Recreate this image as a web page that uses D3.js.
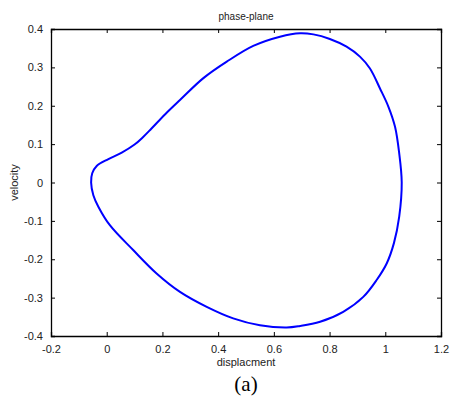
<!DOCTYPE html>
<html>
<head>
  <meta charset="utf-8">
  <title>phase-plane</title>
  <script src="https://d3js.org/d3.v7.min.js"></script>
  <style>
    body { margin: 0; background: #fff; }
    text { font-family: Arial, "Liberation Sans", sans-serif; fill: #222; }
  </style>
</head>
<body>
<div id="chart"></div>
<script>
"use strict"

// curve, going round clockwise from the left tip
var displacement = [-0.056, -0.052, -0.036, 0.006, 0.054, 0.100, 0.130, 0.160, 0.210, 0.263, 0.347, 0.431,
  0.526, 0.622, 0.694, 0.742, 0.801, 0.861, 0.909, 0.945, 0.981, 1.011, 1.035,
  1.050, 1.059, 1.050, 1.031, 1.005, 0.969, 0.921, 0.849, 0.766, 0.694,
  0.646, 0.550, 0.454, 0.359, 0.263, 0.179, 0.095, 0.012, -0.030, -0.048];
var velocity = [0.000, 0.024, 0.043, 0.061, 0.078, 0.099, 0.118, 0.140, 0.178, 0.215, 0.272, 0.315,
  0.356, 0.380, 0.389, 0.386, 0.374, 0.354, 0.328, 0.297, 0.245, 0.198, 0.145,
  0.076, 0.000, -0.089, -0.158, -0.211, -0.254, -0.298, -0.337, -0.363, -0.374,
  -0.378, -0.372, -0.354, -0.324, -0.285, -0.237, -0.176, -0.112, -0.063, -0.033];
var xTicks = [-0.2, 0, 0.2, 0.4, 0.6, 0.8, 1, 1.2];
var yTicks = [-0.4, -0.3, -0.2, -0.1, 0, 0.1, 0.2, 0.3, 0.4];

var larguraSVG = 450, alturaSVG = 412;
var margin = {top: 29, right: 9, bottom: 76, left: 51};
var larguraVis = larguraSVG - margin.left - margin.right,
    alturaVis = alturaSVG - margin.top - margin.bottom;

var svg = d3.select('#chart').append('svg')
  .attr('width', larguraSVG)
  .attr('height', alturaSVG);

var g = svg.append('g')
  .attr('transform', 'translate(' + margin.left + ',' + margin.top + ')');

var x = d3.scaleLinear().domain([-0.2, 1.2]).range([0, larguraVis]);
var y = d3.scaleLinear().domain([-0.4, 0.4]).range([alturaVis, 0]);

// hifen comum no lugar do sinal de menos unicode
var fmt = function(d) { return String(d); };

// eixos: ticks para dentro, como no matlab
g.append('g')
  .attr('transform', 'translate(0,' + alturaVis + ')')
  .call(d3.axisBottom(x).tickValues(xTicks).tickSize(-4).tickPadding(9).tickFormat(fmt));
g.append('g')
  .call(d3.axisTop(x).tickValues(xTicks).tickSize(-4).tickFormat(''));
g.append('g')
  .call(d3.axisLeft(y).tickValues(yTicks).tickSize(-4).tickPadding(8).tickFormat(fmt));
g.append('g')
  .attr('transform', 'translate(' + larguraVis + ',0)')
  .call(d3.axisRight(y).tickValues(yTicks).tickSize(-4).tickFormat(''));

g.selectAll('.domain').attr('stroke', '#000').attr('stroke-width', 1.3);
g.selectAll('.tick line').attr('stroke', '#000');
g.selectAll('.tick text').attr('font-size', 11).attr('fill', '#222')
  .attr('font-family', 'Arial, "Liberation Sans", sans-serif');

var pontos = d3.zip(displacement, velocity);

g.append('path')
  .datum(pontos)
  .attr('fill', 'none')
  .attr('stroke', '#0000ff')
  .attr('stroke-width', 2)
  .attr('d', d3.line()
    .x(function(d) { return x(d[0]); })
    .y(function(d) { return y(d[1]); })
    .curve(d3.curveCatmullRomClosed.alpha(0.5)));

svg.append('text')
  .attr('x', margin.left + larguraVis / 2)
  .attr('y', 20)
  .attr('text-anchor', 'middle')
  .attr('font-size', 10)
  .text('phase-plane');

svg.append('text')
  .attr('x', margin.left + larguraVis / 2)
  .attr('y', 366)
  .attr('text-anchor', 'middle')
  .attr('font-size', 11)
  .text('displacment');

svg.append('text')
  .attr('transform', 'translate(18,' + (margin.top + alturaVis / 2) + ') rotate(-90)')
  .attr('text-anchor', 'middle')
  .attr('font-size', 11)
  .text('velocity');

svg.append('text')
  .attr('x', margin.left + larguraVis / 2)
  .attr('y', 391)
  .attr('text-anchor', 'middle')
  .attr('font-size', 21)
  .style('font-family', '"Liberation Serif", "Times New Roman", serif')
  .style('fill', '#000')
  .text('(a)');
</script>
</body>
</html>
